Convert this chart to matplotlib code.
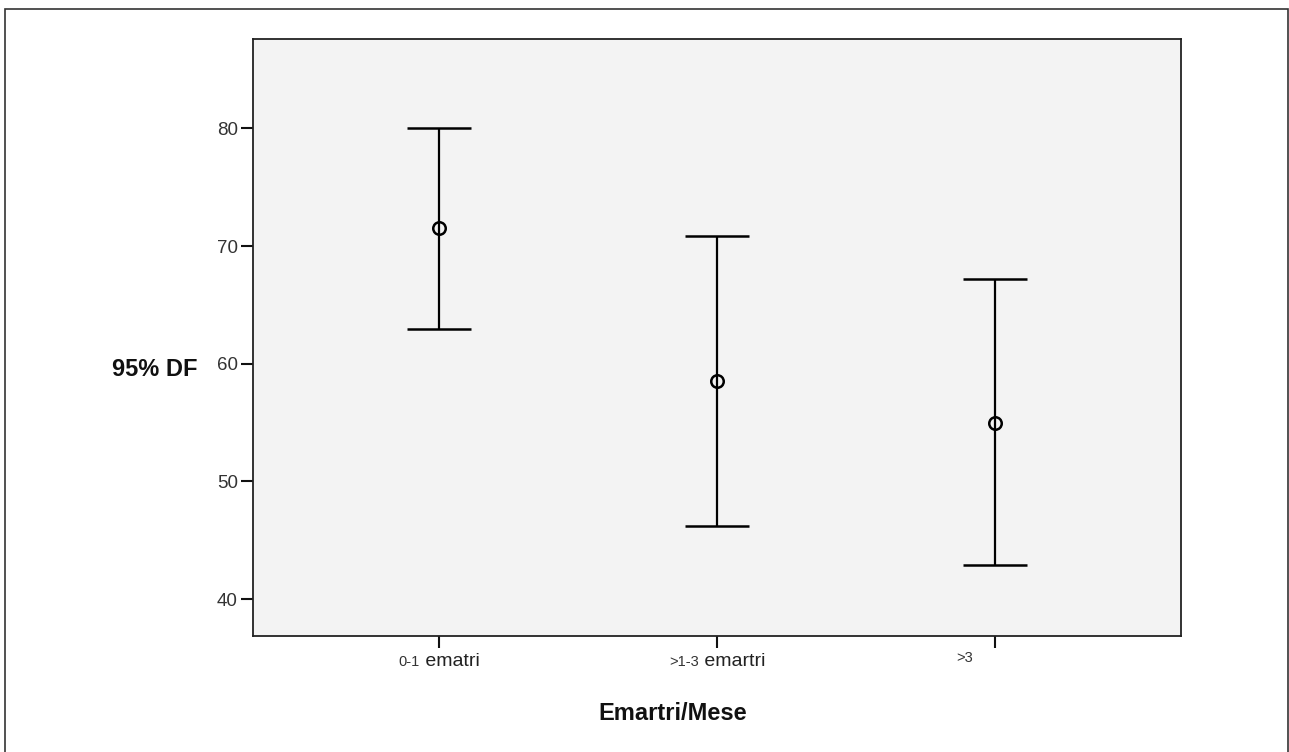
import matplotlib
matplotlib.use("Agg")
import matplotlib.pyplot as plt
from matplotlib.patches import Rectangle
from matplotlib.offsetbox import TextArea, HPacker, AnnotationBbox

plt.rcParams["font.family"] = ["Liberation Sans", "DejaVu Sans"]

# dati (IC 95%)
gruppi_small = ["0-1", ">1-3", ">3"]
gruppi_big = ["ematri", "emartri", ""]
medie = [71.5, 58.5, 55.0]
ic_basso = [62.95, 46.2, 42.9]
ic_alto = [80.06, 70.82, 67.2]
y_ticks = [40, 50, 60, 70, 80]

W, H = 1289, 752
fig = plt.figure(figsize=(W / 100, H / 100), dpi=100)
ax = fig.add_axes([253 / W, 1 - 636 / H, (1181 - 253) / W, (636 - 39) / H])
ax.set_facecolor("#f3f3f3")

x = list(range(len(medie)))
err_lo = [m - lo for m, lo in zip(medie, ic_basso)]
err_hi = [hi - m for m, hi in zip(medie, ic_alto)]
ax.errorbar(x, medie, yerr=[err_lo, err_hi], fmt="o", color="black",
            mfc="none", mec="black", ms=9, mew=1.8, elinewidth=1.6,
            capsize=22.7, capthick=1.6, zorder=3)

ax.set_xlim(-0.669, 2.669)
ax.set_ylim(36.86, 87.59)
ax.set_yticks(y_ticks)
ax.tick_params(axis="y", length=9, width=1.5, pad=2, labelsize=13.5,
               labelcolor="#333333", color="#111111")
ax.set_xticks(x)
ax.set_xticklabels([])
ax.tick_params(axis="x", length=8.5, width=1.5, color="#111111")
for s in ax.spines.values():
    s.set_color("#222222")
    s.set_linewidth(1.3)

# etichette dei tick con due grandezze di carattere
for i, (sm, bg) in enumerate(zip(gruppi_small, gruppi_big)):
    parts = [TextArea(sm, textprops=dict(fontsize=10.5, color="#333333"))]
    if bg:
        parts.append(TextArea(" " + bg, textprops=dict(fontsize=14, color="#222222")))
    pack = HPacker(children=parts, align="baseline", pad=0, sep=0)
    dx, dy = (0, -12) if bg else (-22, -10.5)
    ab = AnnotationBbox(pack, (i, 0), xycoords=("data", "axes fraction"),
                        xybox=(dx, dy), boxcoords="offset points",
                        box_alignment=(0.5, 1), frameon=False, pad=0)
    ax.add_artist(ab)

fig.text(155 / W, 1 - 370 / H, "95% DF", fontsize=17, fontweight="bold",
         color="#111111", ha="center", va="center")
fig.text(673 / W, 1 - 714 / H, "Emartri/Mese", fontsize=17, fontweight="bold",
         color="#111111", ha="center", va="center")

# cornice esterna
fig.patches.append(Rectangle((5 / W, -0.02), (1288 - 5) / W, 1 - 9 / H + 0.02,
                             transform=fig.transFigure, fill=False,
                             edgecolor="#333333", linewidth=1.2))

fig.savefig("out.png", dpi=100)
